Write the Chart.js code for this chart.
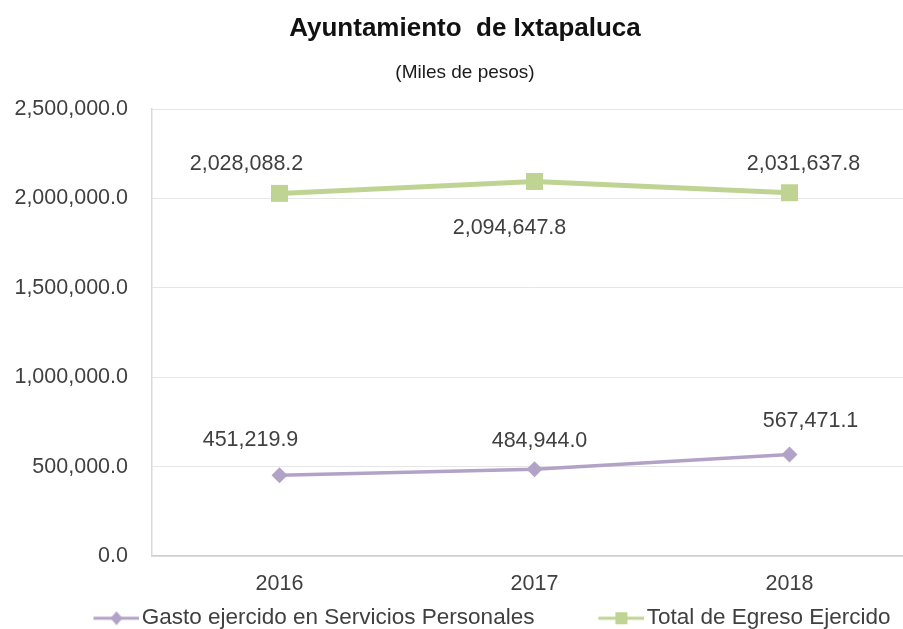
<!DOCTYPE html>
<html>
<head>
<meta charset="utf-8">
<script src="https://cdn.jsdelivr.net/npm/chart.js@4"></script>
<style>
  html, body { margin: 0; padding: 0; background: #fff; overflow: hidden; }
  #wrap { width: 940px; height: 629px; }
</style>
</head>
<body>
<div id="wrap"><canvas id="chart" width="940" height="629"></canvas></div>
<script>
// datos (miles de pesos)
const years = ['2016', '2017', '2018'];
const gastoServicios = [451219.9, 484944.0, 567471.1];
const totalEgreso = [2028088.2, 2094647.8, 2031637.8];
const yTicks = [0, 500000, 1000000, 1500000, 2000000, 2500000];

const PURPLE = '#b3a2c7';
const GREEN = '#bfd493';
const TEXT = '#404040';
const FONT = '"Liberation Sans", Arial, sans-serif';

const fmt = v => v.toLocaleString('en-US', { minimumFractionDigits: 1, maximumFractionDigits: 1 });

// icono de leyenda: linea con marcador (como en Excel)
const BOX = 91;
function legendIcon(color, shape) {
  const c = document.createElement('canvas');
  c.width = BOX + 18;
  c.height = 20;
  const g = c.getContext('2d');
  const x0 = c.width - 46, x1 = c.width, cx = c.width - 23, cy = 10;
  g.strokeStyle = color;
  g.lineWidth = 3;
  g.beginPath(); g.moveTo(x0, cy); g.lineTo(x1, cy); g.stroke();
  g.fillStyle = color;
  if (shape === 'rect') {
    g.fillRect(cx - 6, cy - 6, 12, 12);
  } else {
    g.beginPath();
    g.moveTo(cx, cy - 7); g.lineTo(cx + 6, cy); g.lineTo(cx, cy + 7); g.lineTo(cx - 6, cy);
    g.closePath(); g.fill();
  }
  return c;
}

// etiquetas de datos
const valueLabels = {
  id: 'valueLabels',
  afterDatasetsDraw(chart, args, opts) {
    const ctx = chart.ctx;
    ctx.save();
    ctx.font = '21.5px ' + FONT;
    ctx.fillStyle = TEXT;
    ctx.textAlign = 'center';
    ctx.textBaseline = 'middle';
    chart.data.datasets.forEach((ds, i) => {
      const meta = chart.getDatasetMeta(i);
      const sh = opts.shift[i];
      meta.data.forEach((pt, j) => {
        ctx.fillText(fmt(ds.data[j]), pt.x + sh.dx[j], pt.y + sh.dy[j]);
      });
    });
    ctx.restore();
  }
};

new Chart(document.getElementById('chart'), {
  type: 'line',
  data: {
    labels: years,
    datasets: [
      {
        label: 'Gasto ejercido en Servicios Personales',
        data: gastoServicios,
        borderColor: PURPLE,
        backgroundColor: PURPLE,
        borderWidth: 3.5,
        pointStyle: 'rectRot',
        pointRadius: 8,
        pointBorderWidth: 0,
        tension: 0
      },
      {
        label: 'Total de Egreso Ejercido',
        data: totalEgreso,
        borderColor: GREEN,
        backgroundColor: GREEN,
        borderWidth: 5,
        pointStyle: 'rect',
        pointRadius: 12,
        pointBorderWidth: 0,
        tension: 0
      }
    ]
  },
  options: {
    responsive: false,
    animation: false,
    layout: { padding: { left: 13, right: 23, top: 0, bottom: 0 } },
    scales: {
      x: {
        offset: true,
        afterFit: s => { s.height = 41; },
        grid: { display: false, drawTicks: false },
        border: { display: true, color: '#cfcfcf', width: 1.5 },
        ticks: { padding: 15, color: TEXT, font: { family: FONT, size: 21.5 } }
      },
      y: {
        min: 0,
        max: 2500000,
        afterFit: s => { s.width = 139; },
        afterBuildTicks: s => { s.ticks = yTicks.map(v => ({ value: v })); },
        grid: { color: '#e6e6e6', lineWidth: 1, drawTicks: false },
        border: { display: true, color: '#d9d9d9', width: 1.5 },
        ticks: {
          padding: 24,
          color: TEXT,
          font: { family: FONT, size: 21.5 },
          callback: v => fmt(v)
        }
      }
    },
    plugins: {
      title: {
        display: true,
        text: 'Ayuntamiento  de Ixtapaluca',
        color: '#111111',
        font: { family: FONT, size: 26, weight: 'bold' },
        padding: { top: 13, bottom: 0 }
      },
      subtitle: {
        display: true,
        text: '(Miles de pesos)',
        color: '#1a1a1a',
        font: { family: FONT, size: 19 },
        padding: { top: 17, bottom: 25 }
      },
      legend: {
        position: 'bottom',
        maxHeight: 32,
        labels: {
          usePointStyle: true,
          pointStyleWidth: BOX,
          padding: 10,
          color: TEXT,
          font: { family: FONT, size: 22.5 },
          generateLabels: chart => chart.data.datasets.map((ds, i) => ({
            text: ds.label,
            pointStyle: legendIcon(ds.borderColor, ds.pointStyle === 'rect' ? 'rect' : 'diamond'),
            fillStyle: ds.borderColor,
            strokeStyle: 'transparent',
            lineWidth: 0,
            fontColor: TEXT,
            hidden: false,
            datasetIndex: i
          }))
        }
      },
      tooltip: { enabled: false },
      valueLabels: {
        shift: [
          { dx: [-29, 5, 21], dy: [-35, -28, -33] },
          { dx: [-33, -25, 14], dy: [-29, 47, -29] }
        ]
      }
    }
  },
  plugins: [valueLabels]
});
</script>
</body>
</html>
